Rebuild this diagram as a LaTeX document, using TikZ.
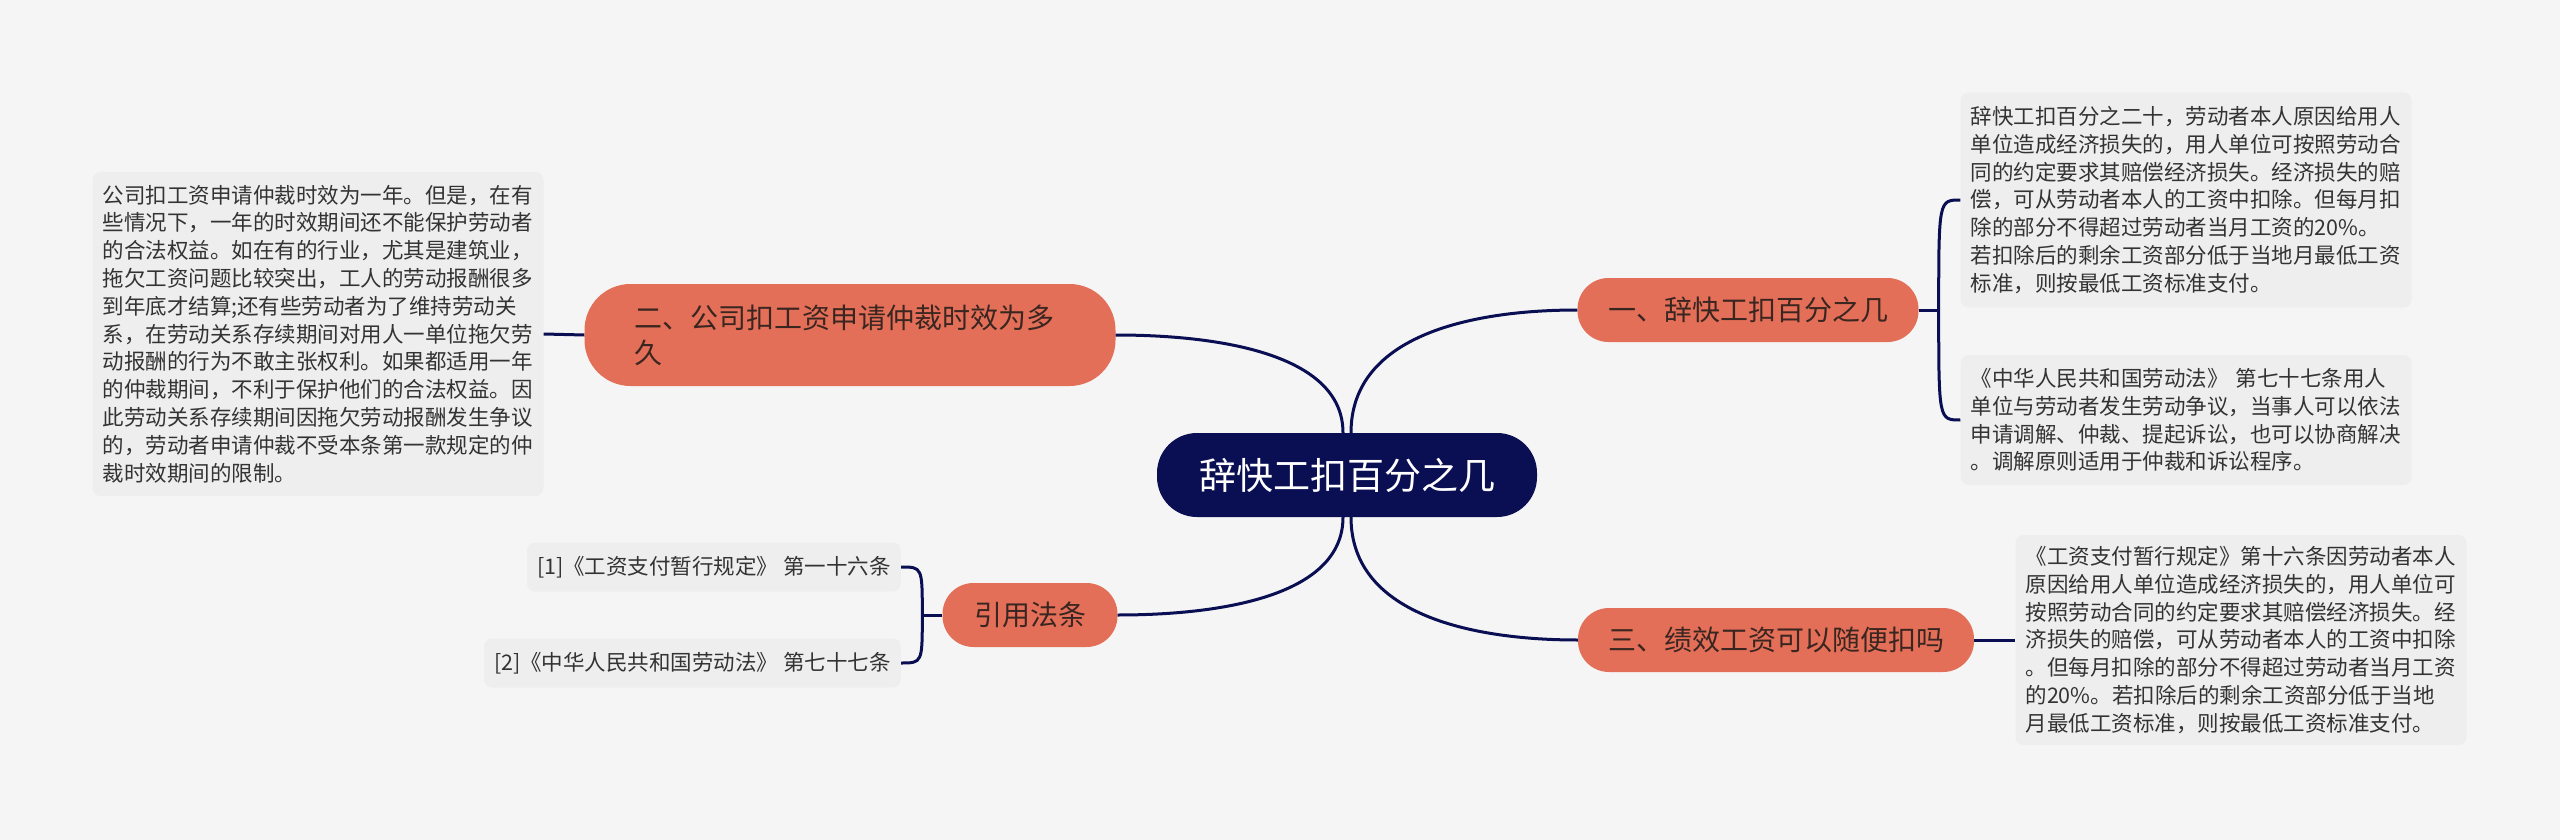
\documentclass[tikz,border=0pt]{standalone}
\usepackage{fontspec}
\setmainfont{Noto Sans CJK SC}
\usepackage{xcolor}
\definecolor{fondgris}{RGB}{245,245,245}
\definecolor{racine}{RGB}{10,14,82}
\definecolor{branche}{RGB}{228,111,89}
\definecolor{encrebranche}{RGB}{58,38,32}
\definecolor{feuille}{RGB}{238,238,238}
\definecolor{encrefeuille}{RGB}{51,51,51}

\begin{document}
\begin{tikzpicture}[x=1pt, y=-1pt,
    sujet/.style={rectangle, rounded corners=40pt, fill=racine, text=white,
      minimum width=380pt, minimum height=84pt,
      font=\fontsize{37pt}{42pt}\selectfont},
    theme/.style={rectangle, rounded corners=31pt, fill=branche,
      text=encrebranche, minimum height=64pt,
      font=\fontsize{28pt}{35pt}\selectfont},
    detail/.style={rectangle, rounded corners=8pt, fill=feuille,
      text=encrefeuille, align=left, inner xsep=10pt,
      font=\fontsize{21.5pt}{27.8pt}\selectfont},
    lien/.style={racine, line width=3pt}]

    % Fond
    \fill[fondgris] (0,0) rectangle (2560,840);
    \useasboundingbox (0,0) rectangle (2560,840);

    % Sujet central
    \node[sujet] (centre) at (1347,475) {辞快工扣百分之几};

    % Themes
    \node[theme, minimum width=341pt] (un) at (1748,310)
      {一、辞快工扣百分之几};
    \node[theme, minimum width=396pt] (trois) at (1776,640)
      {三、绩效工资可以随便扣吗};
    \node[theme, rounded corners=46pt, minimum height=102pt,
          text width=431pt, inner xsep=50pt, align=left] (deux) at (850,335)
      {二、公司扣工资申请仲裁时效为多\\久};
    \node[theme, minimum width=175pt] (lois) at (1030,615) {引用法条};

    % Details a droite
    \node[detail, text width=431pt, minimum height=215pt] (unA) at (2186,200)
      {辞快工扣百分之二十，劳动者本人原因给用人\\
       单位造成经济损失的，用人单位可按照劳动合\\
       同的约定要求其赔偿经济损失。经济损失的赔\\
       偿，可从劳动者本人的工资中扣除。但每月扣\\
       除的部分不得超过劳动者当月工资的20\%。\\
       若扣除后的剩余工资部分低于当地月最低工资\\
       标准，则按最低工资标准支付。};
    \node[detail, text width=431pt, minimum height=130pt] (unB) at (2186,420)
      {《中华人民共和国劳动法》 第七十七条用人\\
       单位与劳动者发生劳动争议，当事人可以依法\\
       申请调解、仲裁、提起诉讼，也可以协商解决\\
       。调解原则适用于仲裁和诉讼程序。};
    \node[detail, text width=431pt, minimum height=210pt] (troisA) at (2241,640)
      {《工资支付暂行规定》第十六条因劳动者本人\\
       原因给用人单位造成经济损失的，用人单位可\\
       按照劳动合同的约定要求其赔偿经济损失。经\\
       济损失的赔偿，可从劳动者本人的工资中扣除\\
       。但每月扣除的部分不得超过劳动者当月工资\\
       的20\%。若扣除后的剩余工资部分低于当地\\
       月最低工资标准，则按最低工资标准支付。};

    % Details a gauche
    \node[detail, text width=431pt, minimum height=324pt] (deuxA) at (318,334)
      {公司扣工资申请仲裁时效为一年。但是，在有\\
       些情况下，一年的时效期间还不能保护劳动者\\
       的合法权益。如在有的行业，尤其是建筑业，\\
       拖欠工资问题比较突出，工人的劳动报酬很多\\
       到年底才结算;还有些劳动者为了维持劳动关\\
       系，在劳动关系存续期间对用人一单位拖欠劳\\
       动报酬的行为不敢主张权利。如果都适用一年\\
       的仲裁期间，不利于保护他们的合法权益。因\\
       此劳动关系存续期间因拖欠劳动报酬发生争议\\
       的，劳动者申请仲裁不受本条第一款规定的仲\\
       裁时效期间的限制。};
    \node[detail, minimum height=49pt, anchor=east] (loisA) at (901,567)
      {[1]《工资支付暂行规定》 第一十六条};
    \node[detail, minimum height=49pt, anchor=east] (loisB) at (901,663)
      {[2]《中华人民共和国劳动法》 第七十七条};

    % Liens du centre vers les themes
    \draw[lien] ([xshift=4pt]centre.north)
      .. controls ([xshift=4pt, yshift=100pt]centre.north)
      and ([xshift=-100pt]un.west) .. (un.west);
    \draw[lien] ([xshift=-4pt]centre.north)
      .. controls ([xshift=-4pt, yshift=80pt]centre.north)
      and ([xshift=100pt]deux.east) .. (deux.east);
    \draw[lien] ([xshift=-4pt]centre.south)
      .. controls ([xshift=-4pt, yshift=-80pt]centre.south)
      and ([xshift=100pt]lois.east) .. (lois.east);
    \draw[lien] ([xshift=4pt]centre.south)
      .. controls ([xshift=4pt, yshift=-100pt]centre.south)
      and ([xshift=-100pt]trois.west) .. (trois.west);

    % Accolades vers les details
    \draw[lien] (un.east) -- ++(20,0) coordinate (nu);
    \draw[lien] (nu) .. controls (nu |- unA.west) .. (unA.west);
    \draw[lien] (nu) .. controls (nu |- unB.west) .. (unB.west);
    \draw[lien] (lois.west) -- ++(-20,0) coordinate (nl);
    \draw[lien] (nl) .. controls (nl |- loisA.east) .. (loisA.east);
    \draw[lien] (nl) .. controls (nl |- loisB.east) .. (loisB.east);
    \draw[lien] (deux.west) -- (deuxA.east);
    \draw[lien] (trois.east) -- (troisA.west);

\end{tikzpicture}
\end{document}
